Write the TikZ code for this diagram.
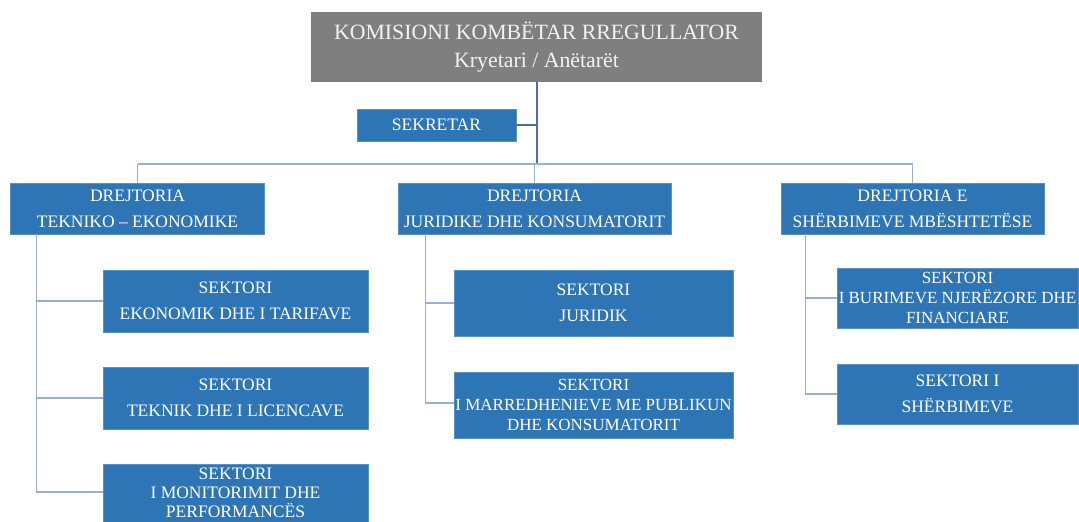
\documentclass[tikz,border=0pt]{standalone}
\usepackage{fontspec}
\setmainfont{Liberation Serif}
\definecolor{boxblue}{RGB}{46,117,182}
\definecolor{boxgray}{RGB}{127,127,127}
\definecolor{linelight}{RGB}{150,175,210}
\definecolor{linedark}{RGB}{70,110,180}
\tikzset{
  box/.style={fill=boxblue, draw=boxblue!80!white, line width=0.6pt, text=white, align=center, inner sep=0pt, anchor=center},
  gbox/.style={fill=boxgray, text=white!95!black, align=center, inner sep=0pt, anchor=center},
  fs/.style={font=\fontsize{17.5}{26}\selectfont},
  fst/.style={font=\fontsize{17}{20}\selectfont},
  conn/.style={draw=linelight, line width=1.3pt},
  connd/.style={draw=linedark, line width=1.3pt}
}
\begin{document}
\begin{tikzpicture}[x=1pt,y=-1pt]
\useasboundingbox (0,0) rectangle (1079,522);
\clip (0,0) rectangle (1079,522);
% top
\node[gbox, minimum width=451pt, minimum height=70pt, font=\fontsize{21.8}{28}\selectfont] (top) at (536.5,47) {KOMISIONI KOMBËTAR RREGULLATOR\\Kryetari / Anëtarët};
\node[box, fs, minimum width=159pt, minimum height=32pt] (sek) at (436.5,125) {SEKRETAR};
% directorates
\node[box, fs, minimum width=254pt, minimum height=51pt] (d1) at (137.5,208.5) {DREJTORIA\\TEKNIKO – EKONOMIKE};
\node[box, fs, minimum width=273pt, minimum height=51pt] (d2) at (534.5,208.5) {DREJTORIA\\JURIDIKE DHE KONSUMATORIT};
\node[box, fs, minimum width=263pt, minimum height=51pt] (d3) at (912.5,208.5) {DREJTORIA E\\SHËRBIMEVE MBËSHTETËSE};
% sectors column 1
\node[box, fs, minimum width=265pt, minimum height=62pt] (s11) at (235.5,301) {SEKTORI\\EKONOMIK DHE I TARIFAVE};
\node[box, fs, minimum width=265pt, minimum height=62pt] (s12) at (235.5,398) {SEKTORI\\TEKNIK DHE I LICENCAVE};
\node[box, minimum width=265pt, minimum height=64pt] (s13) at (235.5,496) {};
\node[text=white, align=center, inner sep=0pt, font=\fontsize{17.5}{19}\selectfont] (s13t) at (235.5,493) {SEKTORI\\I MONITORIMIT DHE\\PERFORMANCËS};
% sectors column 2
\node[box, fs, minimum width=279pt, minimum height=66pt] (s21) at (593.5,303) {SEKTORI\\JURIDIK};
\node[box, minimum width=279pt, minimum height=66pt] (s22) at (593.5,405) {};
\node[text=white, align=center, inner sep=0pt, fst] (s22t) at (593.5,405) {SEKTORI\\I MARREDHENIEVE ME PUBLIKUN\\DHE KONSUMATORIT};
% sectors column 3
\node[box, minimum width=241pt, minimum height=60pt] (s31) at (957.5,298) {};
\node[text=white, align=center, inner sep=0pt, fst] (s31t) at (957.5,298) {SEKTORI\\I BURIMEVE NJERËZORE DHE\\FINANCIARE};
\node[box, fs, minimum width=241pt, minimum height=60pt] (s32) at (957.5,394) {SEKTORI I\\SHËRBIMEVE};
% connectors
\coordinate (bus) at (537,164);
\draw[connd] (top.south -| bus) -- (bus);
\draw[connd] (sek.east) -- (sek.east -| bus);
\draw[conn] (d1.north |- bus) -- (d3.north |- bus);
\draw[conn] (d1.north |- bus) -- (d1.north);
\draw[conn] (d2.north |- bus) -- (d2.north);
\draw[conn] (d3.north |- bus) -- (d3.north);
% spines
\draw[conn] ([xshift=26pt]d1.south west) |- (s11.west);
\draw[conn] ([xshift=26pt]d1.south west) |- (s12.west);
\draw[conn] ([xshift=26pt]d1.south west) |- ([yshift=4pt]s13.west);
\draw[conn] ([xshift=28pt]d2.south west) |- (s21.west);
\draw[conn] ([xshift=28pt]d2.south west) |- ([yshift=2pt]s22.west);
\draw[conn] ([xshift=25pt]d3.south west) |- (s31.west);
\draw[conn] ([xshift=25pt]d3.south west) |- (s32.west);
\end{tikzpicture}
\end{document}
